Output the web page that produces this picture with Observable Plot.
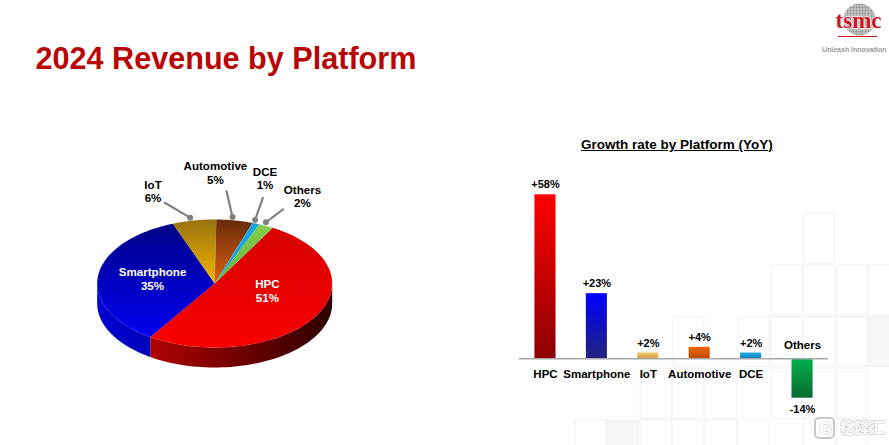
<!DOCTYPE html>
<html>
<head>
<meta charset="utf-8">
<script src="https://cdn.jsdelivr.net/npm/d3@7"></script>
<script src="https://cdn.jsdelivr.net/npm/@observablehq/plot@0.6"></script>
<style>
  html, body { margin: 0; padding: 0; background: #fff; }
  #page { position: relative; width: 889px; height: 445px; overflow: hidden; font-family: "Liberation Sans", Arial, sans-serif; }
  #page svg { position: absolute; left: 0; top: 0; }
  #title { position: absolute; left: 35.5px; top: 39px; font-size: 30.6px; line-height: 38px; font-weight: bold; color: #b80505; white-space: nowrap; }
  #subtitle { position: absolute; left: 581px; top: 137px; font-size: 13.5px; line-height: 16px; font-weight: bold; color: #000; text-decoration: underline; white-space: nowrap; }
</style>
</head>
<body>
<div id="page">
  <div id="layers"></div>
  <div id="title">2024 Revenue by Platform</div>
  <div id="subtitle">Growth rate by Platform (YoY)</div>
</div>
<script>
// ---------- chart values ----------
const platforms = ["HPC", "Smartphone", "IoT", "Automotive", "DCE", "Others"];
const revenueShare = [51, 35, 6, 5, 1, 2];
const growthYoY = [58, 23, 2, 4, 2, -14];
const growthLabels = ["+58%", "+23%", "+2%", "+4%", "+2%", "-14%"];

// ---------- styling ----------
const pieTopStops = [["#d60000", "#fa0000"], ["#000088", "#0000f2"], ["#98720f", "#f2b600"], ["#682a0a", "#dc6410"], ["#15a6e8", "#1f9fe0"], ["#86cc4a", "#5fb53a"]];
const pieSideStops = [["#b00000", "#2e0000"], ["#0000d2", "#0000b8"]];
const barStops = [["#ff0000", "#8c0000"], ["#0000ff", "#23237e"], ["#f2c873", "#d9a040"], ["#f26500", "#bd4a08"], ["#22aaea", "#127fc0"], ["#00b04f", "#0b6a30"]];
const pieStart = 29.6;          // where the first slice begins, degrees clockwise from north
const pieDepth = 0.3125;        // rim height in pie units
const labelAngle = [103.6, 278.4, 340, 0.2, 14.6, 28.7];
const labelRadius = [0.462, 0.535, 1.535, 1.73, 1.70, 1.555];
const leaderAngle = [null, null, 341.2, 3.9, 17, 26.7];
const leaderRadius = [null, null, 1.342, 1.456, 1.41, 1.307];

// backdrop tile grid (column, row, tinted)
const tileCol = [7, 6,7,8,9, 3,5,6,7,8,9, 2,3,4,6,7,8, 0,1,2,3,4,5,7,8];
const tileRow = [0, 1,1,1,1, 2,2,2,2,2,2, 3,3,3,3,3,3, 4,4,4,4,4,4,4,4];
const tileTint = [0, 0,0,0,0, 0,0,0,0,0,1, 0,0,0,0,0,0, 0,1,0,0,0,0,0,0];

// ---------- helpers ----------
const polar = (deg, r) => { const a = deg * Math.PI / 180; return {x: r * Math.sin(a), y: r * Math.cos(a)}; };
const gradientDefs = (list) => () => {
  const defs = d3.create("svg:defs");
  for (const [id, stops, horizontal] of list) {
    const g = defs.append("linearGradient").attr("id", id)
      .attr("x1", 0).attr("y1", 0).attr("x2", horizontal ? 1 : 0).attr("y2", horizontal ? 0 : 1);
    g.append("stop").attr("offset", "0%").attr("stop-color", stops[0]);
    g.append("stop").attr("offset", "100%").attr("stop-color", stops[1]);
  }
  return defs.node();
};

// ---------- pie geometry from the shares ----------
let cursor = pieStart;
const slices = platforms.map((name, i) => {
  const a0 = cursor, a1 = cursor + revenueShare[i] * 3.6;
  cursor = a1;
  return {name, i, a0, a1, mid: (a0 + a1) / 2};
});
const arc = (a0, a1, dy = 0) => d3.range(0, 61).map(k => {
  const p = polar(a0 + (a1 - a0) * k / 60, 1);
  return {x: p.x, y: p.y - dy};
});
const topShape = s => [{x: 0, y: 0}, ...arc(s.a0, s.a1)];
const sideShape = s => {
  const lo = Math.max(s.a0, 90), hi = Math.min(s.a1, 270);
  return hi > lo ? [...arc(lo, hi), ...arc(lo, hi, pieDepth).reverse()] : null;
};
const callouts = slices.filter(s => leaderAngle[s.i] != null).map(s => {
  const dot = polar(s.mid - 1.5, 1.05), end = polar(leaderAngle[s.i], leaderRadius[s.i]);
  return {x1: end.x, y1: end.y, x2: dot.x, y2: dot.y};
});
const pieLabels = slices.map(s => ({
  ...polar(labelAngle[s.i], labelRadius[s.i]),
  text: s.name + "\n" + revenueShare[s.i] + "%",
  inside: s.i < 2
}));

// ---------- backdrop + logo + watermark ----------
const tiles = tileCol.map((c, i) => ({c, r: tileRow[i], tint: tileTint[i]}));
const backdrop = Plot.plot({
  width: 889, height: 445, margin: 0,
  style: {background: "transparent", fontFamily: "Liberation Sans"},
  x: {type: "linear", domain: [0, 889], range: [0, 889], axis: null},
  y: {type: "linear", domain: [0, 445], range: [0, 445], axis: null},
  marks: [
    () => {
      const defs = d3.create("svg:defs");
      const p = defs.append("pattern").attr("id", "wafer").attr("width", 3).attr("height", 3).attr("patternUnits", "userSpaceOnUse");
      p.append("rect").attr("width", 3).attr("height", 3).attr("fill", "#d0d0d0");
      p.append("rect").attr("width", 2).attr("height", 2).attr("fill", "#8c8c8c");
      return defs.node();
    },
    Plot.rect(tiles, {
      x1: d => 575 + d.c * 32.65, x2: d => 606 + d.c * 32.65,
      y1: d => 213 + d.r * 51.75, y2: d => 263 + d.r * 51.75,
      fill: d => d.tint ? "#f7f6f4" : "#fff", stroke: "#f2f2f2", strokeWidth: 1
    }),
    Plot.dot([{x: 859, y: 19}], {x: "x", y: "y", r: 16, fill: "url(#wafer)"}),
    Plot.text(["tsmc"], {x: () => 858, y: () => 20, fontFamily: "Liberation Serif", fontWeight: "bold", fontSize: 23, fill: "#d0141c", stroke: "#fff", strokeWidth: 1.5, paintOrder: "stroke"}),
    Plot.ruleY([36], {x1: 838, x2: 877, stroke: "#d0141c", strokeWidth: 1.2}),
    Plot.text(["Unleash Innovation"], {x: () => 886, y: () => 49, textAnchor: "end", fontWeight: "bold", fontSize: 7, fill: "#9a9a9a"}),
    Plot.rect([{}], {x1: () => 815, x2: () => 834, y1: () => 418, y2: () => 438, rx: 4, fill: "#fff", stroke: "#c8c8c8", strokeWidth: 2}),
    Plot.text(["G"], {x: () => 825, y: () => 428, fontWeight: "bold", fontSize: 16, fill: "#fff", stroke: "#c4c4c4", strokeWidth: 1}),
    Plot.text(["格隆汇"], {x: () => 862, y: () => 428, fontFamily: "Noto Sans CJK SC", fontWeight: "bold", fontSize: 15, fill: "#fff", stroke: "#bdbdbd", strokeWidth: 1})
  ]
});

// ---------- 3-D pie ----------
const pie = Plot.plot({
  width: 889, height: 445, margin: 0,
  style: {background: "transparent", fontFamily: "Liberation Sans", overflow: "visible"},
  x: {type: "linear", domain: [-1, 1], range: [96.7, 331.7], axis: null},
  y: {type: "linear", domain: [-1, 1], range: [347, 219], axis: null},
  color: {type: "identity"},
  marks: [
    gradientDefs([
      ...pieTopStops.map((st, i) => ["top" + i, st, false]),
      ...pieSideStops.map((st, i) => ["side" + i, st, true])
    ]),
    ...slices.filter(s => sideShape(s)).map(s => Plot.line(sideShape(s), {
      x: "x", y: "y", fill: `url(#side${s.i})`, stroke: "none"
    })),
    ...slices.map(s => Plot.line(topShape(s), {
      x: "x", y: "y", fill: `url(#top${s.i})`, stroke: "none"
    })),
    Plot.link(callouts, {x1: "x1", y1: "y1", x2: "x2", y2: "y2", stroke: "#808080", strokeWidth: 2.2}),
    Plot.dot(callouts, {x: "x2", y: "y2", r: 3, fill: "#808080"}),
    Plot.text(pieLabels, {
      x: "x", y: "y", text: "text", lineHeight: 1.17,
      fontSize: 11.6, fontWeight: "bold",
      fill: d => d.inside ? "#fff" : "#000"
    })
  ]
});

// ---------- growth bars ----------
const rows = platforms.map((name, i) => ({name, growth: growthYoY[i], label: growthLabels[i], grad: `url(#bar${i})`}));
const bars = Plot.plot({
  width: 889, height: 445,
  marginLeft: 519, marginRight: 61, marginTop: 194.3, marginBottom: 47.3,
  style: {background: "transparent", fontFamily: "Liberation Sans", overflow: "visible"},
  x: {type: "band", domain: platforms, paddingInner: 0.59, paddingOuter: 0.3, round: false, axis: null},
  y: {type: "linear", domain: [-14, 58], axis: null},
  color: {type: "identity"},
  marks: [
    gradientDefs(barStops.map((st, i) => ["bar" + i, st, false])),
    Plot.barY(rows, {x: "name", y: "growth", fill: "grad"}),
    Plot.ruleY([0], {stroke: "#a8a8a8", strokeWidth: 1.5}),
    Plot.text(rows.filter(d => d.growth >= 0), {x: "name", y: "growth", text: "label", dy: -10, fontSize: 11, fontWeight: "bold", fill: "#000"}),
    Plot.text(rows.filter(d => d.growth < 0), {x: "name", y: "growth", text: "label", dy: 11, fontSize: 11, fontWeight: "bold", fill: "#000"}),
    Plot.text(rows.filter(d => d.growth >= 0), {x: "name", y: () => 0, text: "name", dy: 16, fontSize: 11.5, fontWeight: "bold", fill: "#000"}),
    Plot.text(rows.filter(d => d.growth < 0), {x: "name", y: () => 0, text: "name", dy: -13, fontSize: 11.5, fontWeight: "bold", fill: "#000"})
  ]
});

document.getElementById("layers").append(backdrop, pie, bars);
</script>
</body>
</html>
